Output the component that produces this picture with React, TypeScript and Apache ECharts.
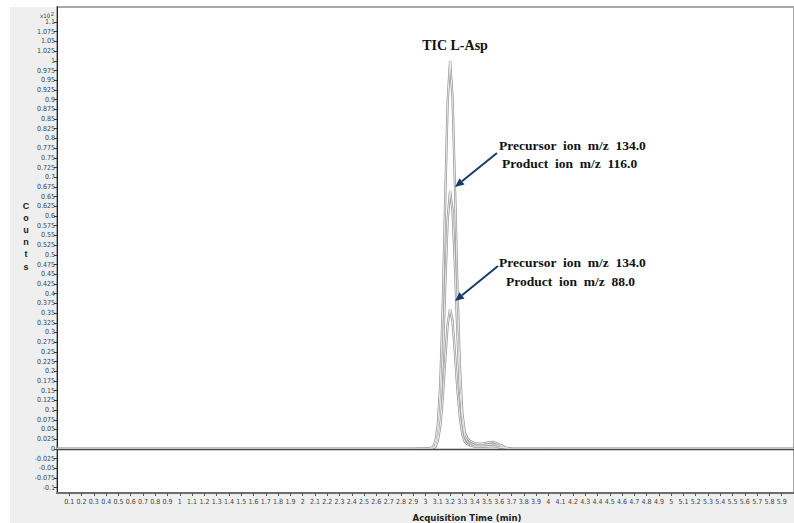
import React, { useEffect, useRef } from "react";
import * as echarts from "echarts";

// Acquisition time (min)
const times = [0, 2.9, 3.0, 3.04, 3.06, 3.08, 3.1, 3.12, 3.14, 3.16, 3.18, 3.2, 3.22, 3.24, 3.26, 3.28, 3.3, 3.32, 3.34, 3.36, 3.4, 3.45, 3.5, 3.55, 3.6, 3.65, 3.7, 4.0, 6.0];
// Counts (x10^2)
const ticValues = [0, 0, 0.001, 0.002, 0.005, 0.018, 0.06, 0.165, 0.362, 0.636, 0.893, 1.0, 0.906, 0.675, 0.413, 0.21, 0.092, 0.042, 0.028, 0.021, 0.015, 0.013, 0.016, 0.018, 0.012, 0.004, 0, 0, 0];
const ion116Values = [0, 0, 0, 0.001, 0.002, 0.009, 0.034, 0.1, 0.228, 0.413, 0.59, 0.665, 0.615, 0.47, 0.295, 0.155, 0.07, 0.031, 0.02, 0.015, 0.01, 0.009, 0.011, 0.012, 0.008, 0.002, 0, 0, 0];
const ion88Values = [0, 0, 0, 0, 0.001, 0.005, 0.02, 0.058, 0.128, 0.228, 0.32, 0.36, 0.33, 0.245, 0.152, 0.08, 0.037, 0.018, 0.012, 0.009, 0.006, 0.005, 0.006, 0.007, 0.004, 0.001, 0, 0, 0];

const yTicks = [-0.1, -0.075, -0.05, -0.025, 0, 0.025, 0.05, 0.075, 0.1, 0.125, 0.15, 0.175, 0.2, 0.225, 0.25, 0.275, 0.3, 0.325, 0.35, 0.375, 0.4, 0.425, 0.45, 0.475, 0.5, 0.525, 0.55, 0.575, 0.6, 0.625, 0.65, 0.675, 0.7, 0.725, 0.75, 0.775, 0.8, 0.825, 0.85, 0.875, 0.9, 0.925, 0.95, 0.975, 1, 1.025, 1.05, 1.075, 1.1];

const traces = [ticValues, ion116Values, ion88Values];

const serif = "'Liberation Serif', 'Times New Roman', serif";
const narrow = "'Liberation Sans Narrow', 'DejaVu Sans Condensed', 'Liberation Sans', sans-serif";
const navy = "#1b3a6b";

export default function App() {
  const ref = useRef<HTMLDivElement>(null);
  useEffect(() => {
    if (!ref.current) return;
    const chart = echarts.init(ref.current, null, { renderer: "svg" });
    const outer = traces.map((vals, i) => ({
      type: "line",
      name: "outer" + i,
      data: times.map((t, k) => [t, vals[k]]),
      showSymbol: false,
      symbol: "none",
      lineStyle: { color: "#929292", width: 2.3 },
      silent: true,
      z: 2,
    }));
    const inner = traces.map((vals, i) => ({
      type: "line",
      name: "inner" + i,
      data: times.map((t, k) => [t, vals[k]]),
      showSymbol: false,
      symbol: "none",
      lineStyle: { color: "#ffffff", width: 0.8 },
      silent: true,
      z: 3,
      markLine:
        i === 0
          ? {
              silent: true,
              symbol: "none",
              label: { show: false },
              lineStyle: { color: "#444444", width: 1.4, type: "solid" },
              data: [{ yAxis: 0 }],
              z: 4,
            }
          : undefined,
    }));
    chart.setOption({
      animation: false,
      backgroundColor: "#ffffff",
      grid: {
        left: 57,
        top: 7,
        width: 744,
        height: 486,
        show: true,
        backgroundColor: "#ffffff",
        borderColor: "#a8a8a8",
        borderWidth: 2,
      },
      xAxis: {
        type: "value",
        min: 0,
        max: 6,
        interval: 0.1,
        axisLine: { show: true, onZero: false, lineStyle: { color: "#6e6e6e", width: 2 } },
        axisTick: { show: true, length: 3, lineStyle: { color: "#555", width: 1 } },
        axisLabel: {
          showMinLabel: false,
          showMaxLabel: false,
          fontSize: 7,
          color: "#444",
          fontFamily: narrow,
          margin: 5,
        },
        splitLine: { show: false },
      },
      yAxis: {
        type: "value",
        min: -0.1137,
        max: 1.1387,
        axisLine: { show: true, onZero: false, lineStyle: { color: "#222", width: 1 } },
        axisTick: { show: true, length: 3, customValues: yTicks, lineStyle: { color: "#333", width: 1 } },
        axisLabel: {
          customValues: yTicks,
          fontSize: 7,
          color: "#444",
          fontFamily: narrow,
          margin: 2,
        },
        splitLine: { show: false },
      },
      series: [...outer, ...inner],
      graphic: [
        {
          type: "rect",
          shape: { x: 10, y: 7, width: 800, height: 516 },
          style: { fill: "#efefef" },
          z: -100,
          silent: true,
        },
        {
          type: "text",
          x: 40,
          y: 11,
          style: {
            text: "x10{s|2}",
            fontSize: 6,
            fill: "#333",
            fontFamily: narrow,
            rich: { s: { fontSize: 5, verticalAlign: "top", padding: [0, 0, 4, 1] } },
          },
        },
        {
          type: "text",
          x: 26,
          y: 236,
          style: {
            text: "C\no\nu\nn\nt\ns",
            fontSize: 9,
            fontWeight: "bold",
            lineHeight: 12.2,
            fill: "#222",
            fontFamily: "'Liberation Sans', Arial, sans-serif",
            align: "center",
            verticalAlign: "middle",
          },
        },
        {
          type: "text",
          x: 467,
          y: 517,
          style: {
            text: "Acquisition Time (min)",
            fontSize: 9.5,
            fontWeight: "bold",
            fill: "#222",
            fontFamily: narrow,
            align: "center",
            verticalAlign: "middle",
          },
        },
        {
          type: "text",
          x: 455,
          y: 45,
          style: { text: "TIC L-Asp", fontSize: 14, fontWeight: "bold", fill: "#111", fontFamily: serif, align: "center", verticalAlign: "middle" },
        },
        {
          type: "text",
          x: 499,
          y: 145,
          style: { text: "Precursor  ion  m/z  134.0", fontSize: 13.5, fontWeight: "bold", fill: "#111", fontFamily: serif, align: "left", verticalAlign: "middle" },
        },
        {
          type: "text",
          x: 502,
          y: 163,
          style: { text: "Product  ion  m/z  116.0", fontSize: 13.5, fontWeight: "bold", fill: "#111", fontFamily: serif, align: "left", verticalAlign: "middle" },
        },
        {
          type: "text",
          x: 499,
          y: 262,
          style: { text: "Precursor  ion  m/z  134.0", fontSize: 13.5, fontWeight: "bold", fill: "#111", fontFamily: serif, align: "left", verticalAlign: "middle" },
        },
        {
          type: "text",
          x: 506,
          y: 281,
          style: { text: "Product  ion  m/z  88.0", fontSize: 13.5, fontWeight: "bold", fill: "#111", fontFamily: serif, align: "left", verticalAlign: "middle" },
        },
        {
          type: "line",
          shape: { x1: 497, y1: 153, x2: 462, y2: 181.3 },
          style: { stroke: navy, lineWidth: 2 },
          z: 10,
        },
        {
          type: "polygon",
          shape: { points: [[455, 187], [464.5, 184.4], [459.5, 178.2]] },
          style: { fill: navy },
          z: 10,
        },
        {
          type: "line",
          shape: { x1: 498, y1: 266, x2: 462, y2: 295.3 },
          style: { stroke: navy, lineWidth: 2 },
          z: 10,
        },
        {
          type: "polygon",
          shape: { points: [[455, 301], [464.5, 298.4], [459.5, 292.2]] },
          style: { fill: navy },
          z: 10,
        },
      ],
    });
    return () => chart.dispose();
  }, []);
  return (
    <div
      ref={ref}
      style={{ position: "fixed", left: 0, top: 0, width: 794, height: 523 }}
    />
  );
}
